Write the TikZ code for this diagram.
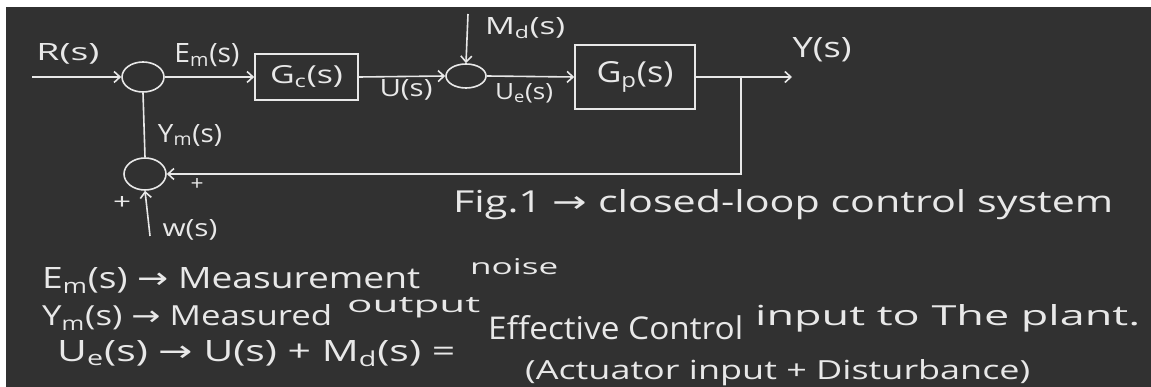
\documentclass[tikz,border=0pt]{standalone}
\usepackage{fontspec}
\setmainfont{Open Sans}
\newfontfamily\arrowfont{DejaVu Sans}
\usetikzlibrary{arrows.meta,shapes.geometric}
\definecolor{board}{HTML}{313131}
\definecolor{chalk}{HTML}{E8E8E8}
\newcommand{\hw}[3]{\resizebox{#1pt}{#2pt}{#3}}
\newcommand{\ar}{{\arrowfont →}}
\begin{document}
\begin{tikzpicture}[x=1pt,y=-1pt,
  wire/.style={draw=chalk,line width=1.6pt},
  arr/.style={wire,-{Straight Barb[length=6pt,width=11pt,line width=1.6pt]}},
  sumj/.style={ellipse,draw=chalk,line width=1.6pt,inner sep=0pt},
  blk/.style={rectangle,draw=chalk,line width=1.6pt,inner sep=0pt},
  lbl/.style={text=chalk,inner sep=0pt,font=\fontsize{20}{24}\selectfont},
  txt/.style={text=chalk,inner sep=0pt,anchor=base west,font=\fontsize{20}{24}\selectfont}]
\useasboundingbox (0,0) rectangle (1151,387);
\fill[white] (0,0) rectangle (1151,387);
\fill[board] (6,7) rectangle (1151,387);

% blocks and junctions
\node[sumj,minimum width=42pt,minimum height=30pt] (s1) at (143,77) {};
\node[blk,minimum width=103pt,minimum height=46pt] (gc) at (306.5,77) {};
\node[sumj,minimum width=40pt,minimum height=24pt] (s2) at (466,76) {};
\node[blk,minimum width=120pt,minimum height=64pt] (gp) at (635,77) {};
\node[sumj,minimum width=42pt,minimum height=32pt] (s3) at (145,174) {};

% free ends
\coordinate (rin) at (32,77);
\coordinate (mdin) at (468,14);
\coordinate (br) at (741,77);
\coordinate (yout) at (792,77);
\coordinate (fb) at (741,174);
\coordinate (win) at (150,236);

% connectors
\draw[arr] (rin) -- (s1.west);
\draw[arr] (s1.east) -- (gc.west);
\draw[arr] (gc.east) -- (s2.west);
\draw[arr] (mdin) -- (s2.north);
\draw[arr] (s2.east) -- (gp.west);
\draw[arr] (gp.east) -- (yout);
\draw[arr] (br) -- (fb) -- (s3.east);
\draw[wire] (s1.south) -- (s3.north);
\draw[arr] (win) -- (s3.south);

% labels
\node[lbl] (rl) at (68,54) {\hw{63}{17}{R(s)}};
\node[lbl] (eml) at (207,55) {\hw{65}{19}{E\textsubscript{m}(s)}};
\node[lbl] (gcl) at (gc) {\hw{73}{18}{G\textsubscript{c}(s)}};
\node[lbl] (ul) at (406,90) {\hw{53}{17}{U(s)}};
\node[lbl] (mdl) at (525,28) {\hw{80}{17}{M\textsubscript{d}(s)}};
\node[lbl] (uel) at (524,93) {\hw{58}{16}{U\textsubscript{e}(s)}};
\node[lbl] (gpl) at (gp) {\hw{77}{21}{G\textsubscript{p}(s)}};
\node[lbl] (yl) at (822,50) {\hw{59}{20}{Y(s)}};
\node[lbl] (yml) at (190,135) {\hw{64}{18}{Y\textsubscript{m}(s)}};
\node[lbl] (p1) at (197,185) {\hw{13}{12}{+}};
\node[lbl] (p2) at (122,203) {\hw{18}{13}{+}};
\node[lbl] (wl) at (190,230) {\hw{55}{17}{w(s)}};

% notes
\node[txt] (fig) at (453,213) {\hw{660}{23}{Fig.1 \ar{} closed-loop control system}};
\node[txt] (n1a) at (42,289) {\hw{378}{21}{E\textsubscript{m}(s) \ar{} Measurement}};
\node[txt] (n1b) at (470,275) {\hw{88}{16}{noise}};
\node[txt] (n2a) at (42,326) {\hw{290}{21}{Y\textsubscript{m}(s) \ar{} Measured}};
\node[txt] (n2b) at (347,313) {\hw{133}{15}{output}};
\node[txt] (n3a) at (57,361) {\hw{398}{21}{U\textsubscript{e}(s) \ar{} U(s) + M\textsubscript{d}(s) =}};
\node[txt] (n3b) at (488,340) {\hw{255}{24}{Effective Control}};
\node[txt] (n3c) at (755,326) {\hw{385}{21}{input to The plant.}};
\node[txt] (n4) at (525,379) {\hw{505}{20}{(Actuator input + Disturbance)}};
\end{tikzpicture}
\end{document}
